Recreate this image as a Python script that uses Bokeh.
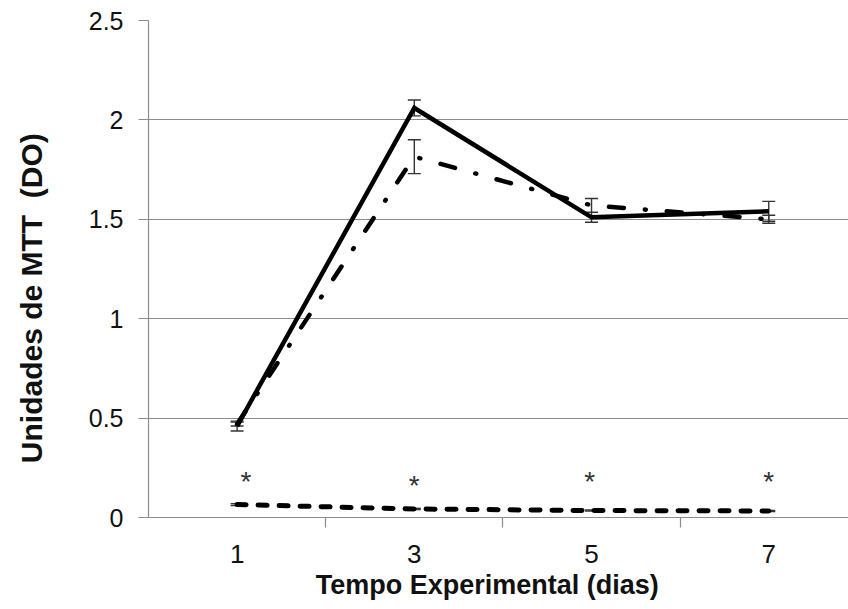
from bokeh.plotting import figure
from bokeh.models import ColumnDataSource, Whisker, FixedTicker, TeeHead, Range1d
from bokeh.core.properties import value
from bokeh.embed import file_html
from bokeh.resources import INLINE

# Data (days)
days = [1, 3, 5, 7]
solid_vals = [0.46, 2.06, 1.51, 1.54]
solid_err = [0.025, 0.04, 0.025, 0.05]
dashdot_vals = [0.47, 1.815, 1.57, 1.50]
dashdot_err = [0.01, 0.085, 0.035, 0.02]
dashed_vals = [0.065, 0.043, 0.035, 0.033]
dashed_err = [0.005, 0.003, 0.003, 0.003]
sig_y = [0.18, 0.16, 0.18, 0.18]
sig_x = [1.1, 3.0, 4.98, 7.0]
y_ticks = [0, 0.5, 1, 1.5, 2, 2.5]
y_tick_labels = ["0", "0.5", "1", "1.5", "2", "2.5"]
x_minor = [2, 4, 6]

FONT = "Liberation Sans"
GRID = "#8c8c8c"
TXT = "#111111"
NB = "\u00a0"

p = figure(frame_width=700, frame_height=497, output_backend="svg",
           toolbar_location=None,
           x_range=Range1d(0, 7.9), y_range=Range1d(0, 2.5))
p.min_border_left = 148
p.min_border_right = 0
p.min_border_top = 20
p.min_border_bottom = 87
p.outline_line_color = None
p.background_fill_color = "white"
p.border_fill_color = "white"

# grids
p.xgrid.visible = False
p.ygrid.ticker = FixedTicker(ticks=y_ticks[1:])
p.ygrid.grid_line_color = GRID
p.ygrid.grid_line_width = 1.2

# y axis
p.yaxis.ticker = FixedTicker(ticks=y_ticks)
p.yaxis.major_label_overrides = {t: l for t, l in zip(y_ticks, y_tick_labels)}
p.yaxis.axis_line_color = GRID
p.yaxis.axis_line_width = 1.2
p.yaxis.major_tick_line_color = GRID
p.yaxis.major_tick_in = 0
p.yaxis.major_tick_out = 10
p.yaxis.minor_tick_line_color = None
p.yaxis.major_label_text_font = FONT
p.yaxis.major_label_text_font_size = "25px"
p.yaxis.major_label_text_color = TXT
p.yaxis.major_label_standoff = 15
p.yaxis.axis_label = "Unidades de MTT " + NB + "(DO)" + NB * 7
p.yaxis.axis_label_text_font = FONT
p.yaxis.axis_label_text_font_style = "bold"
p.yaxis.axis_label_text_font_size = "30px"
p.yaxis.axis_label_text_color = TXT
p.yaxis.axis_label_standoff = 38

# x axis
p.xaxis.ticker = FixedTicker(ticks=days, minor_ticks=x_minor)
p.xaxis.axis_line_color = GRID
p.xaxis.axis_line_width = 1.2
p.xaxis.major_tick_line_color = None
p.xaxis.major_tick_in = 0
p.xaxis.major_tick_out = 0
p.xaxis.minor_tick_line_color = GRID
p.xaxis.minor_tick_line_width = 1.2
p.xaxis.minor_tick_in = 0
p.xaxis.minor_tick_out = 10
p.xaxis.major_label_text_font = FONT
p.xaxis.major_label_text_font_size = "26px"
p.xaxis.major_label_text_color = TXT
p.xaxis.major_label_standoff = 17
p.xaxis.axis_label = "Tempo Experimental (dias)" + NB * 3
p.xaxis.axis_label_text_font = FONT
p.xaxis.axis_label_text_font_style = "bold"
p.xaxis.axis_label_text_font_size = "27px"
p.xaxis.axis_label_text_color = TXT
p.xaxis.axis_label_standoff = 4

def add_series(vals, errs, dash, width):
    lo = [v - e for v, e in zip(vals, errs)]
    hi = [v + e for v, e in zip(vals, errs)]
    src = ColumnDataSource(dict(x=days, y=vals, lo=lo, hi=hi))
    p.line("x", "y", source=src, line_color="black", line_width=width,
           line_dash=dash, line_cap="round" if dash != "solid" else "butt",
           line_join="miter")
    w = Whisker(base="x", lower="lo", upper="hi", source=src,
                line_color="#333333", line_width=1.4)
    w.upper_head = TeeHead(size=13, line_color="#333333", line_width=1.4)
    w.lower_head = TeeHead(size=13, line_color="#333333", line_width=1.4)
    p.add_layout(w)

add_series(dashed_vals, dashed_err, "9 12", 5)
add_series(dashdot_vals, dashdot_err, "15 21 1 21", 4.5)
add_series(solid_vals, solid_err, "solid", 4.5)

sig_src = ColumnDataSource(dict(x=sig_x, y=sig_y, t=["*"] * len(sig_x)))
p.text("x", "y", text="t", source=sig_src, text_font=value(FONT),
       text_font_size="28px", text_color="#333333", text_align="center",
       text_baseline="middle")

open("out.html", "w").write(file_html(p, INLINE))
